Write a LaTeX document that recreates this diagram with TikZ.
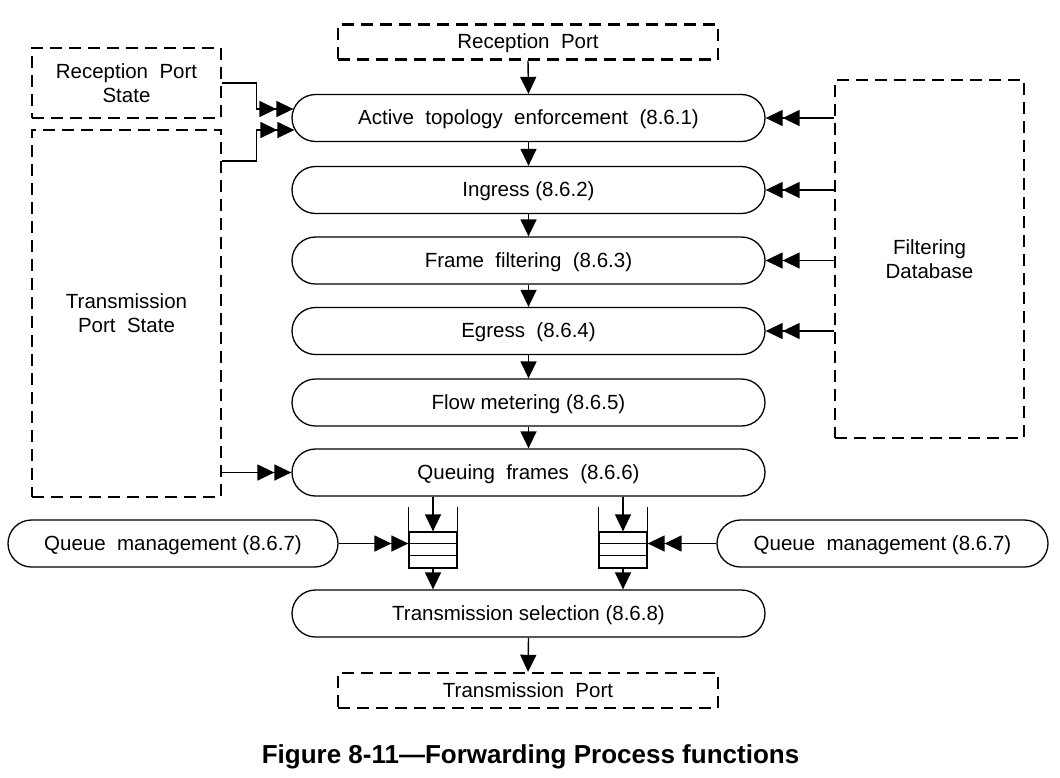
\documentclass[tikz,border=0pt]{standalone}
\usepackage{fontspec}
\setmainfont{Liberation Sans}
\usetikzlibrary{shapes.misc,arrows.meta,calc}
\begin{document}
\begin{tikzpicture}[x=1pt,y=-1pt,
  lbl/.style={font=\fontsize{20.5}{24}\selectfont, align=center},
  oneline/.style={text height=14.7pt, text depth=1pt},
  dbox/.style={lbl, draw, line width=2.4pt, dash pattern=on 12pt off 7pt, inner sep=0pt},
  proc/.style={lbl, oneline, draw, rounded rectangle, line width=1.3pt, minimum height=47pt, inner sep=0pt},
  conn/.style={line width=1.4pt, -{Triangle[length=17pt,width=16pt]}},
  dconn/.style={line width=1.4pt, -{Triangle[length=17pt,width=16pt]Triangle[length=17pt,width=16pt]}},
  qwall/.style={line width=1.3pt}
]
\useasboundingbox (0,0) rectangle (1060,777);
% dashed boxes
\node[dbox, oneline, minimum width=380pt, minimum height=35pt] (recP) at (528,42) {Reception\ \ Port};
\node[dbox, minimum width=189pt, minimum height=70pt] (rps) at (126.5,83) {Reception\ \ Port\\State};
\node[dbox, minimum width=189pt, minimum height=367pt] (tps) at (126.5,313.5) {Transmission\\Port\ \ State};
\node[dbox, minimum width=189pt, minimum height=358pt] (fdb) at (929.5,259) {Filtering\\Database};
\node[dbox, oneline, minimum width=380pt, minimum height=35pt] (trP) at (528,690.5) {Transmission\ \ Port};
% process boxes
\node[proc, minimum width=473pt] (act) at (528.5,118) {Active\ \ topology\ \ enforcement\ \ (8.6.1)};
\node[proc, minimum width=473pt] (ing) at (528.5,190) {Ingress (8.6.2)};
\node[proc, minimum width=473pt] (ff) at (528.5,260.5) {Frame\ \ filtering\ \ (8.6.3)};
\node[proc, minimum width=473pt] (eg) at (528.5,331) {Egress\ \ (8.6.4)};
\node[proc, minimum width=473pt] (fm) at (528.5,402.5) {Flow metering (8.6.5)};
\node[proc, minimum width=473pt] (qf) at (528.5,472.5) {Queuing\ \ frames\ \ (8.6.6)};
\node[proc, minimum width=473pt] (ts) at (528.5,613.5) {Transmission selection (8.6.8)};
\node[proc, minimum width=330pt] (qml) at (173,543.5) {Queue\ \ management (8.6.7)};
\node[proc, minimum width=331pt] (qmr) at (882.5,543.5) {Queue\ \ management (8.6.7)};
% queues
\node[draw, line width=1.3pt, minimum width=48pt, minimum height=36pt, inner sep=0pt] (qL) at (433,550) {};
\node[draw, line width=1.3pt, minimum width=48pt, minimum height=36pt, inner sep=0pt] (qR) at (623,550) {};
\foreach \q in {qL,qR}{
  \draw[qwall] (\q.north west) -- ++(0,-24);
  \draw[qwall] (\q.north east) -- ++(0,-24);
  \draw[qwall] ($(\q.north west)+(0,12)$) -- ($(\q.north east)+(0,12)$);
  \draw[qwall] ($(\q.north west)+(0,24)$) -- ($(\q.north east)+(0,24)$);
}
% vertical flow
\draw[conn] (recP.south) -- (act.north);
\draw[conn] (act.south) -- (ing.north);
\draw[conn] (ing.south) -- (ff.north);
\draw[conn] (ff.south) -- (eg.north);
\draw[conn] (eg.south) -- (fm.north);
\draw[conn] (fm.south) -- (qf.north);
\draw[conn] (qL.north |- qf.south) -- (qL.north);
\draw[conn] (qR.north |- qf.south) -- (qR.north);
\draw[conn] (qL.south) -- (qL.south |- ts.north);
\draw[conn] (qR.south) -- (qR.south |- ts.north);
\draw[conn] (ts.south) -- (trP.north);
% side inputs
\draw[dconn] (rps.east) -- ++(34,0) |- ($(act.west)+(2,-9)$);
\coordinate (tpsout) at ($(tps.north east)+(0,32)$);
\draw[dconn] (tpsout) -- ++(34,0) |- ($(act.west)+(3,12)$);
\draw[dconn] (tps.east |- qf.west) -- (qf.west);
\foreach \b in {act,ing,ff,eg}{
  \draw[dconn] (fdb.west |- \b.east) -- (\b.east);
}
\draw[dconn] (qml.east) -- (qml.east -| qL.west);
\draw[dconn] (qmr.west) -- (qmr.west -| qR.east);
% caption
\node[font=\fontsize{26}{30}\selectfont\bfseries] (cap) at (530.5,757) {Figure 8-11---Forwarding Process functions};
\end{tikzpicture}
\end{document}
